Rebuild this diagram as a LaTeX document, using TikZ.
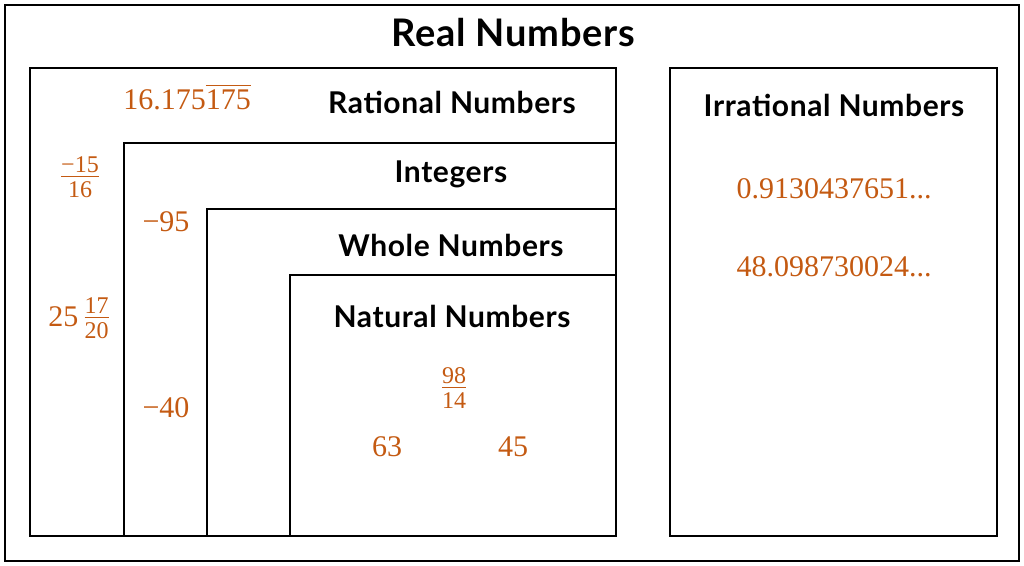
\documentclass[tikz,border=0pt]{standalone}
\usepackage{amsmath}
\usepackage{fontspec}
\setmainfont{Liberation Serif}
\newfontfamily\headfont{Lato}[LetterSpace=2]
\usepackage{xcolor}
\definecolor{numorange}{RGB}{196,90,18}
\usepackage{tikz}
\usetikzlibrary{positioning}

% stacked fraction in the text font
\newcommand{\numfrac}[2]{{\fontsize{24}{28}\selectfont$\frac{\hbox{\rule[-2.5pt]{0pt}{2.5pt}#1}}{\hbox{\rule{0pt}{19pt}#2}}$}}

\tikzset{
  setbox/.style={draw=black, line width=2.4pt},
  title/.style={font=\headfont\bfseries\fontsize{38}{42}\selectfont, text=black},
  head/.style={font=\headfont\bfseries\fontsize{30}{34}\selectfont, text=black},
  num/.style={font=\fontsize{30}{34}\selectfont, text=numorange}
}

\begin{document}
\begin{tikzpicture}[x=1pt, y=-1pt]
      \useasboundingbox (0,0) rectangle (1024,565);
      % Real numbers frame
      \draw[setbox, line width=2pt] (5,5) rectangle (1019,561);
      \node[title] (real) at (513,33) {Real Numbers};

      % Nested rational boxes
      \draw[setbox] (30,68) rectangle (616,536);
      \draw[setbox] (124,143) rectangle (616,536);
      \draw[setbox] (207,209) rectangle (616,536);
      \draw[setbox] (290,275) rectangle (616,536);
      \node[head] (rational) at (452,102) {Rational Numbers};
      \node[head] (integers) at (451,174) {Integers};
      \node[head] (whole) at (451,245) {Whole Numbers};
      \node[head] (natural) at (452,316) {Natural Numbers};

      % Examples in the rational boxes
      \node[num] (rep) at (187,97) {$\text{16.175}\overline{\text{175}}$};
      \node[num] (negfrac) at (80,177) {\numfrac{−15}{16}};
      \node[num] (mixed) at (79,318) {\raisebox{-3pt}{25}\,\numfrac{17}{20}};
      \node[num] (neg95) at (166,222) {−95};
      \node[num] (neg40) at (166,408) {−40};
      \node[num] (natfrac) at (454,388) {\numfrac{98}{14}};
      \node[num] (n63) at (387,447) {63};
      \node[num] (n45) at (513,447) {45};

      % Irrational box
      \draw[setbox] (670,68) rectangle (997,536);
      \node[head] (irrational) at (834,105) {Irrational Numbers};
      \node[num] (irr1) at (834,189) {0.9130437651...};
      \node[num] (irr2) at (834,267) {48.098730024...};
\end{tikzpicture}
\end{document}
